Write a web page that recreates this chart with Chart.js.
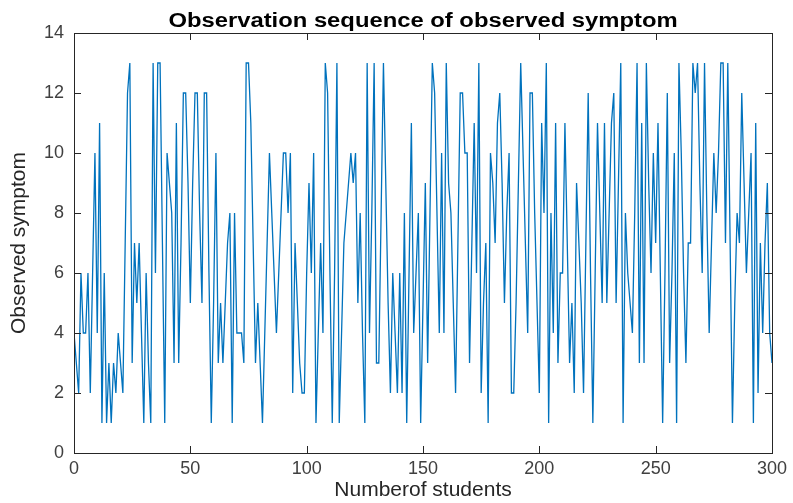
<!DOCTYPE html>
<html>
<head>
<meta charset="utf-8">
<script src="https://cdn.jsdelivr.net/npm/chart.js@4"></script>
<style>
  html, body { margin: 0; padding: 0; background: #fff; }
  #wrap { width: 793px; height: 503px; }
</style>
</head>
<body>
<div id="wrap"><canvas id="myChart" width="793" height="503"></canvas></div>
<script>
// observed symptom per student
var symptom = [
  4, 3, 2, 6, 4, 4, 6, 2, 6, 10, 4, 11, 1, 6, 1, 3, 1, 3, 2, 4,
  3, 2, 7, 12, 13, 3, 7, 5, 7, 4, 1, 6, 3, 1, 13, 6, 13, 13, 7, 1,
  10, 9, 8, 3, 11, 3, 7, 12, 12, 9, 5, 9, 12, 12, 8, 5, 12, 12, 6, 1,
  5, 10, 3, 5, 3, 5, 7, 8, 1, 8, 4, 4, 4, 3, 13, 13, 11, 7, 3, 5,
  3, 1, 4, 7, 10, 8, 6, 4, 6, 8, 10, 10, 8, 10, 2, 7, 5, 3, 2, 2,
  6, 9, 6, 10, 1, 4, 7, 4, 13, 12, 6, 1, 6, 13, 1, 4, 7, 8, 9, 10,
  9, 10, 5, 8, 4, 1, 13, 4, 8, 13, 3, 3, 8, 13, 9, 5, 2, 6, 4, 2,
  6, 2, 8, 1, 6, 11, 4, 6, 8, 1, 5, 9, 3, 8, 13, 12, 8, 4, 10, 4,
  13, 9, 8, 5, 2, 7, 12, 12, 10, 10, 3, 7, 11, 6, 13, 2, 5, 7, 1, 10,
  9, 7, 11, 12, 9, 5, 8, 10, 2, 2, 5, 9, 13, 10, 7, 4, 12, 12, 8, 5,
  2, 11, 8, 13, 1, 8, 4, 11, 3, 6, 6, 11, 7, 3, 5, 2, 9, 7, 5, 2,
  7, 12, 6, 1, 6, 11, 8, 5, 11, 5, 8, 11, 12, 5, 9, 13, 1, 8, 6, 5,
  4, 8, 13, 3, 11, 3, 13, 9, 6, 10, 7, 11, 6, 1, 6, 12, 3, 6, 10, 1,
  13, 10, 6, 3, 7, 7, 13, 12, 13, 9, 6, 13, 8, 4, 7, 10, 8, 10, 13, 13,
  7, 13, 7, 1, 5, 8, 7, 12, 9, 6, 8, 10, 1, 11, 2, 7, 4, 7, 9, 4,
  3
];
var xTicks = [0, 50, 100, 150, 200, 250, 300];
var yTicks = [0, 2, 4, 6, 8, 10, 12, 14];
var titleText = 'Observation sequence of observed symptom';

var points = symptom.map(function (v, i) { return { x: i, y: v }; });
var FONT = 'Arial, "Liberation Sans", sans-serif';

// matlab style box with inward ticks on all four sides + title over the axes
var boxTicks = {
  id: 'boxTicks',
  afterDraw: function (chart) {
    var c = chart.ctx, a = chart.chartArea;
    var xs = chart.scales.x, ys = chart.scales.y;
    var len = 7;
    c.save();
    c.strokeStyle = '#262626';
    c.lineWidth = 1;
    c.strokeRect(Math.round(a.left) + 0.5, Math.round(a.top) + 0.5,
      Math.round(a.right - a.left), Math.round(a.bottom - a.top));
    c.beginPath();
    xTicks.forEach(function (t) {
      var px = Math.round(xs.getPixelForValue(t)) + 0.5;
      c.moveTo(px, a.bottom); c.lineTo(px, a.bottom - len);
      c.moveTo(px, a.top); c.lineTo(px, a.top + len);
    });
    yTicks.forEach(function (t) {
      var py = Math.round(ys.getPixelForValue(t)) + 0.5;
      c.moveTo(a.left, py); c.lineTo(a.left + len, py);
      c.moveTo(a.right, py); c.lineTo(a.right - len, py);
    });
    c.stroke();

    // title, a bit wide like the source figure
    c.fillStyle = '#000';
    c.font = 'bold 20px ' + FONT;
    c.textAlign = 'center';
    c.textBaseline = 'alphabetic';
    c.translate((a.left + a.right) / 2, 27);
    c.scale(1.19, 1);
    c.fillText(titleText, 0, 0);
    c.restore();
  }
};

var ctx = document.getElementById('myChart').getContext('2d');
var myChart = new Chart(ctx, {
  type: 'line',
  data: {
    datasets: [{
      label: 'Observed symptom',
      data: points,
      borderColor: '#0072BD',
      borderWidth: 1.3,
      pointRadius: 0,
      tension: 0,
      fill: false
    }]
  },
  options: {
    responsive: false,
    animation: false,
    layout: { padding: { left: 0, right: 21, top: 33, bottom: 0 } },
    plugins: {
      legend: { display: false },
      tooltip: { enabled: false },
      title: { display: false }
    },
    scales: {
      x: {
        type: 'linear',
        min: 0,
        max: 300,
        afterBuildTicks: function (s) { s.ticks = xTicks.map(function (v) { return { value: v }; }); },
        afterFit: function (s) { s.height = 50; },
        grid: { display: false, drawTicks: false },
        border: { display: false },
        ticks: {
          color: '#404040',
          padding: 5,
          maxRotation: 0,
          font: { family: FONT, size: 18 }
        },
        title: {
          display: true,
          text: 'Numberof students',
          color: '#262626',
          padding: { top: 0, bottom: 0 },
          font: { family: FONT, size: 21 }
        }
      },
      y: {
        min: 0,
        max: 14,
        afterBuildTicks: function (s) { s.ticks = yTicks.map(function (v) { return { value: v }; }); },
        afterFit: function (s) { s.width = 74; },
        grid: { display: false, drawTicks: false },
        border: { display: false },
        ticks: {
          color: '#404040',
          padding: 10,
          font: { family: FONT, size: 18 }
        },
        title: {
          display: true,
          text: 'Observed symptom',
          color: '#262626',
          padding: { top: 7, bottom: 0 },
          font: { family: FONT, size: 21 }
        }
      }
    }
  },
  plugins: [boxTicks]
});
</script>
</body>
</html>
